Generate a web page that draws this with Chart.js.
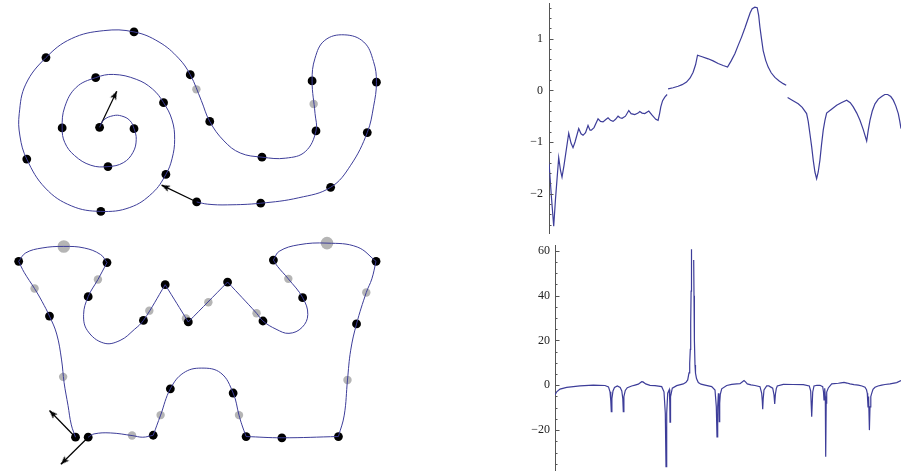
<!DOCTYPE html>
<html><head><meta charset="utf-8">
<script src="https://cdn.jsdelivr.net/npm/chart.js@4.4.1/dist/chart.umd.min.js"></script>
<style>
html,body{margin:0;padding:0;background:#fff;width:901px;height:473px;overflow:hidden}
canvas{position:absolute}
</style></head><body>
<canvas id="left" width="500" height="473" style="left:0;top:0;width:500px;height:473px"></canvas>
<canvas id="tr" width="401" height="236" style="left:500px;top:0;width:401px;height:236px"></canvas>
<canvas id="br" width="401" height="237" style="left:500px;top:236px;width:401px;height:237px"></canvas>
<script>
// ---------- left panels: parametric curves (page-pixel coordinates) ----------
const spiralX = [95.7,100,110,118.3,126.7,131,133.3,130,120,104.3,86.7,70,60,57.3,60,71.7,91.7,110,133.3,150,161.3,170,172.7,170,163.7,150,126.7,97,66.7,40,21,14,13.3,20,40.7,66.7,100,131,156.7,176.7,188.7,200,208.7,223.3,240,262.3,286.7,306.7,317.7,316.7,313.7,316.7,326.7,346.7,366.7,376.7,379.7,376.7,370.3,353.3,332.7,300,261,226.7,206.7,195.3];
const spiralY = [124.3,116.7,112.3,112.7,117.3,125.7,136.7,150,160.7,164.7,163.3,153.3,140,125,103.3,83.3,73.3,70,75,85,99,116.7,136.7,156.7,172.7,191.7,206.7,210.7,205,186.7,157,133.3,110,80,52.7,33.3,25,26.3,36.7,53.3,70.3,96.7,118.3,138.3,150.7,155,156,149.3,128,110,76.7,53.3,35,29.3,36.7,56.7,78,103.3,129.7,163.3,186,196.7,202.3,204,203.3,201];

const wX = [71,66.7,63.3,59.3,56.7,51.7,44.3,36.7,29,18.3,12.7,20,36.7,59,80,96.7,103.3,94,84,79.3,83.3,100,116.7,131.7,140.7,163,186.7,227,256.7,263.3,276.7,290,303.3,309.3,304,289.3,278.3,274,280,300,329,360,379.3,375,369.3,359.3,353.3,350,346.7,340.7,282.7,246,241.7,238.7,232.7,220,200,181.7,168.3,158.3,150.7,140,129,106.7,90,84];
const wY = [442.7,430,410,386.7,363.3,336.7,318.3,303.3,290,273.3,262,253.3,248.3,246.7,248.3,255,263.3,280.7,298.3,316.7,333.3,346,343.3,331.7,322.7,286,324.3,283.3,315.3,323.3,331.7,336,330,316.7,299.3,280,267.3,260.7,251.7,245,243.3,247.3,262,280,294,326.3,353.3,384,420,442,443.3,442,430,420,397.3,376.7,371.7,376.7,393,420,440.7,442.7,441,438.3,439.3,442.7];
const wCorners = [10,16,25,26,27,37,42,49,51,60];

const knotX = [95.7,131,104.3,57.3,91.7,161.3,163.7,97,21,40.7,131,188.7,208.7,262.3,317.7,313.7,379.7,370.3,332.7,261,195.3,
               12.7,103.3,84,140.7,163,186.7,227,263.3,304,274,379.3,359.3,340.7,282.7,246,232.7,168.3,150.7,84,71,44.3];
const knotY = [124.3,125.7,164.7,125,73.3,99,172.7,210.7,157,52.7,26.3,70.3,118.3,155,128,76.7,78,129.7,186,202.3,201,
               262,263.3,298.3,322.7,286,324.3,283.3,323.3,299.3,260.7,262,326.3,442,443.3,442,397.3,393,440.7,442.7,442.7,318.3];
const ctrlX = [195,315.3,94,146.7,184.3,207.3,256.7,289.3,369.3,350,238.7,158.3,129,58.3,29];
const ctrlY = [85.3,100.3,280.7,312.7,320.7,304,315.3,280,294,384,420,420,441,380.7,290];
const bigCtrlX = [59,329];
const bigCtrlY = [246.7,243.3];

const arrowTailX = [95.7,195.3,71,84];
const arrowTailY = [124.3,201,442.7,442.7];
const arrowTipX = [113.3,159.3,44.3,56];
const arrowTipY = [87.3,183.7,415.3,470.5];

// ---------- top-right plot ----------
const trX = [0,2.4,4.7,6.5,9.7,11.5,13,15,19.7,22,24,26,29.7,32,34,36.5,39,41,42.3,45,49,51.5,54,56.5,59,61.5,64,66.5,69,71,73,76.4,79.7,82,85.7,89,90.7,93,95.7,99.7,103,106.7,109,110.5,111.7,113.5,115.7,118,
  118.5,
  119,124,129,133,137.4,141,144,146.5,148.4,153,159,164,169,174,178.4,182,185.7,189,192.4,196,199,201,203,205.7,208,209.5,210.7,212.3,214,216.5,219,222,225.7,230,234,237,
  237.7,
  238.4,243,249,253,257.4,259,260.7,262.5,264,265.7,267.4,269,270.7,272.3,274,275.7,277.4,282,287.4,292,297.4,301,304,307.5,310.7,314,317.4,319,320.7,323,325.7,329,332.4,335.5,338.4,341.5,344,346.5,349,350.5,351.7];
const trY = [-1.39,-2.06,-2.63,-2.1,-1.30,-1.55,-1.68,-1.45,-0.83,-1.02,-1.11,-1.0,-0.74,-0.84,-0.87,-0.82,-0.68,-0.77,-0.77,-0.72,-0.55,-0.6,-0.61,-0.57,-0.53,-0.58,-0.60,-0.56,-0.50,-0.53,-0.54,-0.50,-0.39,-0.45,-0.47,-0.44,-0.41,-0.44,-0.45,-0.40,-0.48,-0.56,-0.58,-0.45,-0.32,-0.2,-0.13,-0.08,
  null,
  0.03,0.05,0.08,0.11,0.16,0.24,0.35,0.5,0.68,0.65,0.61,0.57,0.52,0.48,0.45,0.57,0.71,0.87,1.03,1.22,1.39,1.5,1.58,1.61,1.60,1.45,1.23,1.0,0.77,0.58,0.45,0.34,0.25,0.18,0.13,0.10,
  null,
  -0.14,-0.19,-0.26,-0.33,-0.45,-0.6,-0.84,-1.1,-1.35,-1.58,-1.71,-1.58,-1.35,-1.05,-0.77,-0.58,-0.44,-0.37,-0.29,-0.24,-0.19,-0.24,-0.32,-0.44,-0.58,-0.76,-0.98,-0.77,-0.58,-0.40,-0.26,-0.17,-0.12,-0.08,-0.08,-0.12,-0.19,-0.30,-0.45,-0.6,-0.74];
const trTicks = [-2,-1,0,1];

// ---------- bottom-right plot ----------
const brX = [0,1.7,5,11.7,25,38.3,50,53.5,55,55.8,56.3,56.9,58,59.5,62.3,65.2,66.8,67.8,68.3,68.9,70.3,72.3,76.7,80,83.3,86.7,88,90.7,95,100,106.7,109,110.3,111,111.7,112.7,114.3,114.8,115,115.4,115.7,117.3,121.7,128.3,131,132.7,134,134.7,135.3,135.7,136.1,136.5,
  137.5,
  138.7,139,139.4,140,140.5,141.5,143.3,146,150,156.7,160,161.3,162,162.7,163.4,163.9,164.3,164.7,165.3,166.7,171.7,176.7,181.7,185,187.5,189,190.5,192.3,196,200,205,206.7,207.3,207.7,208.2,209,211.7,214,215,217.7,219,219.7,220.4,221.3,222.3,228.3,238,248.3,254.3,255.7,256.7,257.7,259,262,265,267.7,268.5,269,269.5,269.9,270.3,270.7,271.2,271.7,273.3,276.7,283.3,286,289,292,295,299,303.3,307,310,311.5,312.3,312.7,313,313.4,313.8,314.4,315,315.8,316.7,318,320,323,326.7,330,335,341.7,346];
const brY = [-4.3,-2.9,-1.7,-0.9,-0.25,0.06,-0.1,-0.7,-2.9,-7,-11.8,-6,-2.5,-1.0,-0.3,-1.0,-2.5,-6,-11.8,-5,-2.3,-1.1,-0.3,0.1,0.5,1.6,1.5,0.6,0.0,-0.15,-0.6,-2.9,-12.5,-36.3,-12.5,-3.5,-1.9,-8,-16.5,-7,-5.1,-1.3,-0.15,0.6,1.3,2.4,5.5,9.8,16,27.7,42,60.7,
  null,
  55.9,40,20,9,5.4,3,1.2,0.5,0.1,-0.6,-2.1,-9.5,-23,-9.5,-3.6,-8,-16.2,-8,-4,-1.6,-0.1,0.4,0.6,0.7,1.6,2.1,1.5,0.6,0.2,-0.1,-0.6,-3.6,-7,-10.7,-6,-2.1,-0.3,-0.3,-0.6,-1.3,-4.3,-8.3,-4,-1.5,-0.3,0.4,0.35,0.3,-0.3,-2.6,-14,-3.1,-0.3,0.0,0,-0.6,-3,-6.5,-3,-1.3,-5,-31.9,-8,-3,-1.2,0.6,0.9,1.1,1.3,1.0,0.6,0.3,0.1,-0.3,-0.9,-2,-3.6,-7,-9.6,-6,-5,-20,-9.6,-5,-3.6,-1.8,-0.9,-0.3,0.1,0.35,0.6,1.2,2.1];
const brTicks = [-20,0,20,40,60];

// ---------- styling ----------
const BLUE = '#3d3d99';
const AXIS = '#555';
Chart.defaults.font.family = 'Liberation Serif';

function pts(xs, ys) { return xs.map((x, i) => ({x: x, y: ys[i]})); }

// arrowhead drawn with its tip at the image centre, pointing up
const head = document.createElement('canvas');
head.width = 20; head.height = 20;
(function () {
  const c = head.getContext('2d');
  c.fillStyle = '#000';
  c.beginPath();
  c.moveTo(10, 10); c.lineTo(13.3, 18.5); c.lineTo(10, 16.5); c.lineTo(6.7, 18.5); c.closePath();
  c.fill();
})();

const leftSets = [];
// spiral curve
leftSets.push({data: pts(spiralX, spiralY), showLine: true, borderColor: BLUE, borderWidth: 1, pointRadius: 0, tension: 0.4, fill: false});
// W curve pieces split at corners
const cuts = [0].concat(wCorners, [wX.length - 1]);
for (let k = 0; k < cuts.length - 1; k++) {
  const a = cuts[k], b = cuts[k + 1];
  leftSets.push({data: pts(wX.slice(a, b + 1), wY.slice(a, b + 1)), showLine: true, borderColor: BLUE, borderWidth: 1, pointRadius: 0, tension: 0.4, fill: false});
}
// arrows
for (let i = 0; i < arrowTailX.length; i++) {
  const dx = arrowTipX[i] - arrowTailX[i], dy = arrowTipY[i] - arrowTailY[i];
  const rot = Math.atan2(dx, -dy) * 180 / Math.PI;
  leftSets.push({data: [{x: arrowTailX[i], y: arrowTailY[i]}, {x: arrowTipX[i], y: arrowTipY[i]}],
    showLine: true, borderColor: '#000', borderWidth: 1.2, tension: 0,
    pointRadius: [0, 5], pointStyle: ['circle', head], rotation: [0, rot],
    pointBackgroundColor: '#000', pointBorderWidth: 0});
}
// knots
leftSets.push({data: pts(knotX, knotY), showLine: false, pointRadius: 4.4, pointBackgroundColor: '#000', pointBorderWidth: 0});
// control points
leftSets.push({data: pts(ctrlX, ctrlY), showLine: false, pointRadius: 4.2, pointBackgroundColor: '#b5b5b5', pointBorderWidth: 0});
leftSets.push({data: pts(bigCtrlX, bigCtrlY), showLine: false, pointRadius: 6.3, pointBackgroundColor: '#b5b5b5', pointBorderWidth: 0});

new Chart(document.getElementById('left'), {
  type: 'scatter',
  data: {datasets: leftSets},
  options: {
    responsive: false, animation: false, events: [],
    layout: {padding: 0},
    plugins: {legend: {display: false}, tooltip: {enabled: false}},
    scales: {
      x: {type: 'linear', display: false, min: 0, max: 500},
      y: {type: 'linear', display: false, min: 0, max: 473, reverse: true}
    }
  }
});

// ticks drawn inside the plot, Mathematica style
const innerTicks = {
  id: 'innerTicks',
  afterDraw(chart, args, o) {
    const s = chart.scales.y, ctx = chart.ctx, x0 = chart.chartArea.left;
    ctx.save();
    ctx.strokeStyle = AXIS; ctx.lineWidth = 1;
    const n0 = Math.ceil(s.min / o.minor - 1e-9), n1 = Math.floor(s.max / o.minor + 1e-9);
    for (let n = n0; n <= n1; n++) {
      const v = n * o.minor;
      const r = v / o.major;
      const major = Math.abs(r - Math.round(r)) < 1e-6;
      const py = Math.round(s.getPixelForValue(v)) + 0.5;
      ctx.beginPath(); ctx.moveTo(x0, py); ctx.lineTo(x0 + (major ? 4.5 : 2.5), py); ctx.stroke();
    }
    ctx.restore();
  }
};

function fmt(v) { return v < 0 ? '\u2212' + Math.abs(v) : String(v); }

function linePlot(id, xs, ys, xmax, ymin, ymax, ticks, axisW, padTop, padBottom, labelPad, major, minor) {
  new Chart(document.getElementById(id), {
    type: 'line',
    data: {datasets: [{data: pts(xs, ys), borderColor: BLUE, borderWidth: 1.2, pointRadius: 0, tension: 0, spanGaps: false, fill: false}]},
    options: {
      responsive: false, animation: false, events: [],
      layout: {padding: {top: padTop, bottom: padBottom, left: 0, right: 0}},
      plugins: {legend: {display: false}, tooltip: {enabled: false}, innerTicks: {major: major, minor: minor}},
      scales: {
        x: {type: 'linear', display: false, min: 0, max: xmax},
        y: {
          type: 'linear', min: ymin, max: ymax,
          afterBuildTicks: s => { s.ticks = ticks.map(v => ({value: v})); },
          afterFit: s => { s.width = axisW; s.paddingTop = 0; s.paddingBottom = 0; },
          grid: {display: false, drawTicks: false},
          border: {display: true, color: AXIS, width: 1},
          ticks: {padding: labelPad, color: '#222', autoSkip: false, font: {family: 'Liberation Serif', size: 12}, callback: v => fmt(v)}
        }
      }
    },
    plugins: [innerTicks]
  });
}

linePlot('tr', trX, trY, 351.7, -2.76, 1.69, trTicks, 49, 3, 3, 6, 1, 0.2);
linePlot('br', brX, brY, 346, -37.8, 62.6, brTicks, 55, 9, 3, 5, 20, 5);
</script>
</body></html>
